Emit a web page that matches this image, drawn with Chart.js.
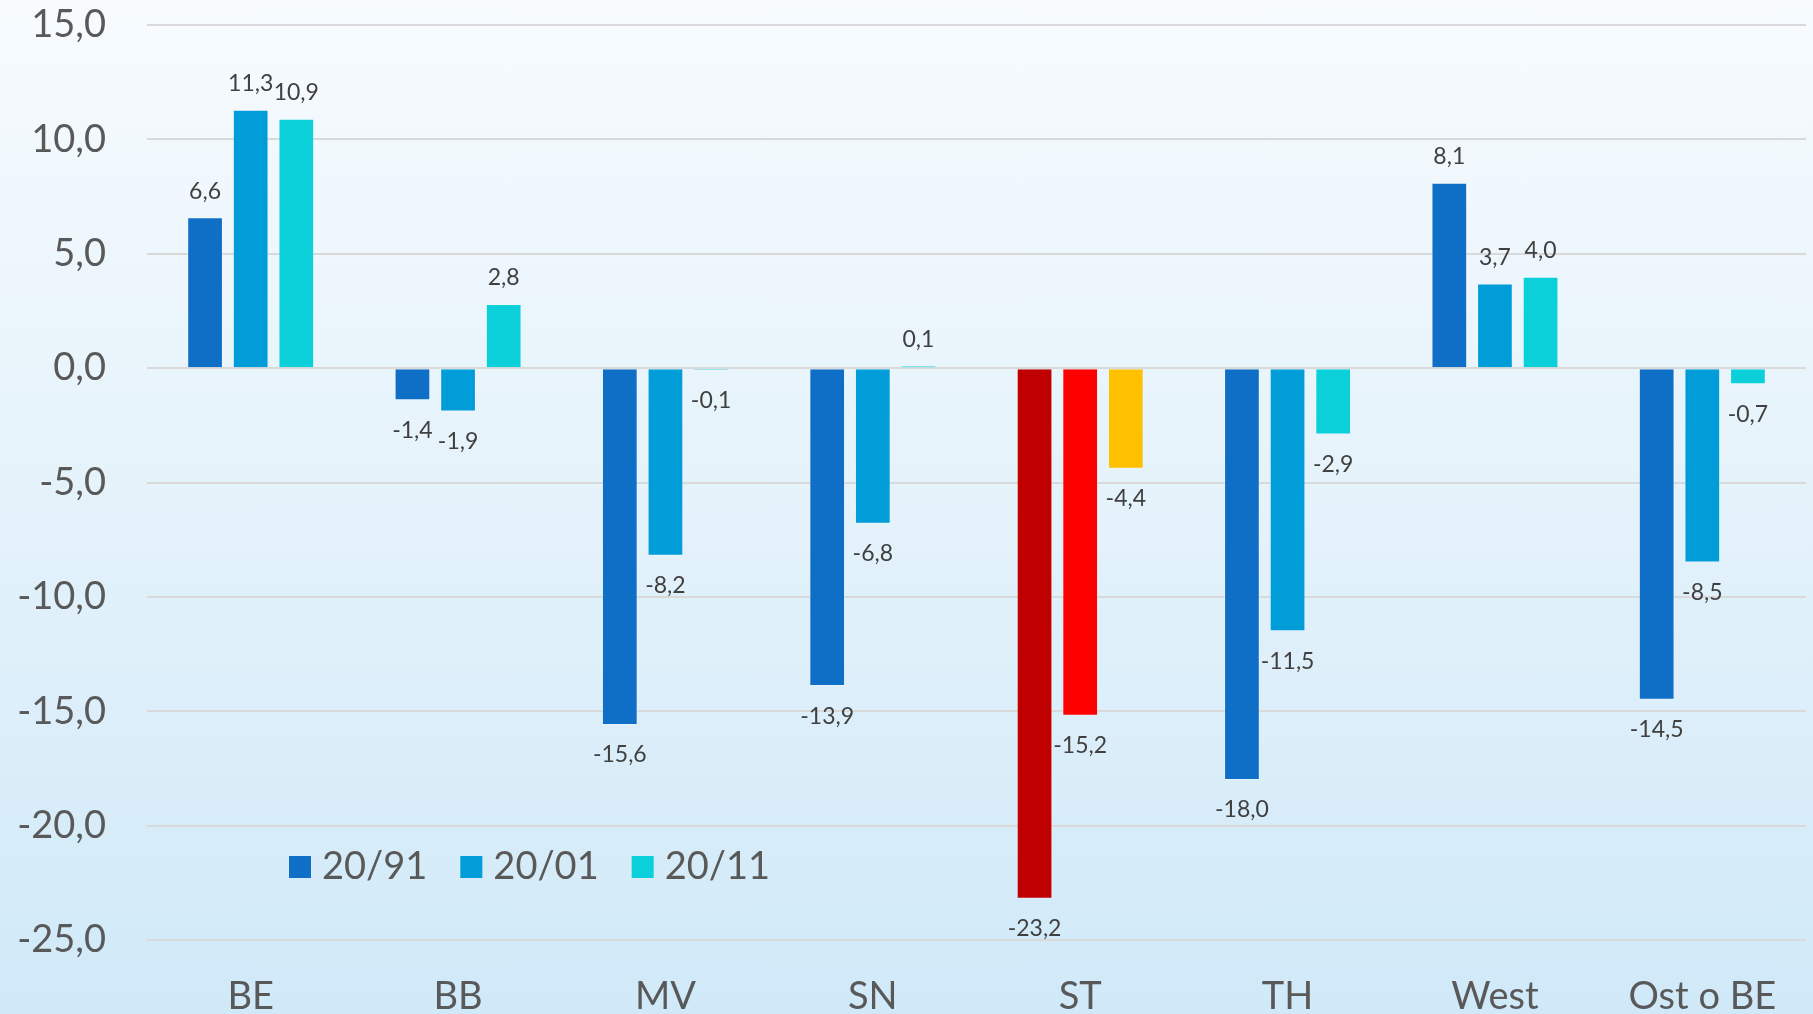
<!DOCTYPE html>
<html>
<head>
<meta charset="utf-8">
<script src="https://cdn.jsdelivr.net/npm/chart.js@4.4.1/dist/chart.umd.min.js"></script>
<style>
  html, body { margin: 0; padding: 0; }
  body { width: 1813px; height: 1014px; overflow: hidden;
         background: linear-gradient(to bottom, #F7FBFE 0%, #E6F3FB 45%, #D0E9F8 100%); }
  canvas { display: block; }
</style>
</head>
<body>
<canvas id="c" width="1813" height="1014"></canvas>
<script>
const categories = ['BE', 'BB', 'MV', 'SN', 'ST', 'TH', 'West', 'Ost o BE'];
const seriesNames = ['20/91', '20/01', '20/11'];
const values9120 = [6.6, -1.4, -15.6, -13.9, -23.2, -18.0, 8.1, -14.5];
const values0120 = [11.3, -1.9, -8.2, -6.8, -15.2, -11.5, 3.7, -8.5];
const values1120 = [10.9, 2.8, -0.1, 0.1, -4.4, -2.9, 4.0, -0.7];
const seriesColors = ['#0F6FC6', '#009DD9', '#0BD0D9'];
const highlightCategory = 'ST';
const highlightColors = ['#C00000', '#FF0000', '#FFC000'];
const yMin = -25, yMax = 15, yStep = 5;

const FONT = "Lato, 'Open Sans', sans-serif";
const fmt = v => v.toFixed(1).replace('.', ',');

const allValues = [values9120, values0120, values1120];
const datasets = allValues.map((vals, i) => ({
  label: seriesNames[i],
  data: vals,
  backgroundColor: categories.map(c => c === highlightCategory ? highlightColors[i] : seriesColors[i]),
  legendColor: seriesColors[i],
  borderColor: 'rgba(255,255,255,0.25)',
  borderWidth: 1,
  borderSkipped: 'start',
  categoryPercentage: 0.66,
  barPercentage: 0.783
}));

const labelPlugin = {
  id: 'valueLabels',
  afterDatasetsDraw(chart) {
    const ctx = chart.ctx;
    ctx.save();
    ctx.font = "23px " + FONT;
    ctx.fillStyle = '#404040';
    ctx.textAlign = 'center';
    ctx.textBaseline = 'middle';
    chart.data.datasets.forEach((ds, di) => {
      const meta = chart.getDatasetMeta(di);
      meta.data.forEach((bar, idx) => {
        const v = ds.data[idx];
        const y = v >= 0 ? bar.y - 26 : bar.y + 30;
        ctx.fillText(fmt(v), bar.x, y);
      });
    });
    ctx.restore();
  }
};

const legendPlugin = {
  id: 'customLegend',
  afterDraw(chart) {
    const ctx = chart.ctx;
    ctx.save();
    ctx.font = "38px " + FONT;
    ctx.textBaseline = 'middle';
    ctx.textAlign = 'left';
    let x = 289;
    const cy = 867;
    chart.data.datasets.forEach(ds => {
      ctx.fillStyle = ds.legendColor;
      ctx.fillRect(x, cy - 11, 22, 22);
      ctx.fillStyle = '#595959';
      ctx.fillText(ds.label, x + 33, cy);
      x = x + 33 + ctx.measureText(ds.label).width + 33;
    });
    ctx.restore();
  }
};

new Chart(document.getElementById('c'), {
  type: 'bar',
  data: { labels: categories, datasets },
  options: {
    responsive: false,
    animation: false,
    devicePixelRatio: 1,
    layout: { padding: { top: 25, right: 7, bottom: 0, left: 0 } },
    plugins: { legend: { display: false }, tooltip: { enabled: false } },
    scales: {
      x: {
        grid: { display: false, drawTicks: false },
        border: { display: false },
        ticks: { color: '#595959', font: { family: FONT, size: 38 }, padding: 34, maxRotation: 0 },
        afterFit(scale) { scale.height = 74; scale.paddingLeft = 0; scale.paddingRight = 0; }
      },
      y: {
        min: yMin, max: yMax,
        grid: { color: '#D9D9D9', lineWidth: 2, drawTicks: false },
        border: { display: false },
        ticks: { stepSize: yStep, color: '#595959', font: { family: FONT, size: 38 }, padding: 41,
                 callback: v => fmt(v) },
        afterFit(scale) { scale.width = 147; scale.paddingTop = 0; scale.paddingBottom = 0; }
      }
    }
  },
  plugins: [labelPlugin, legendPlugin]
});
</script>
</body>
</html>
